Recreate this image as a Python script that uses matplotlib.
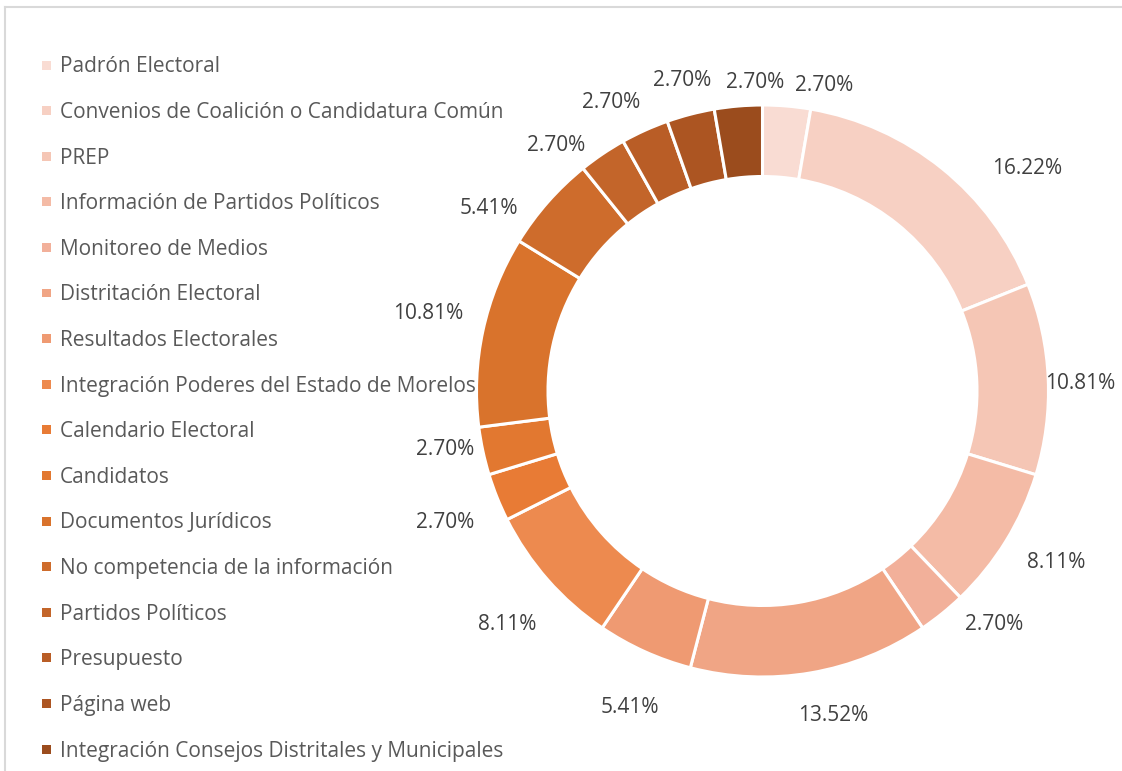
import matplotlib
matplotlib.use("Agg")
import matplotlib.pyplot as plt
from matplotlib.patches import Rectangle
from matplotlib.lines import Line2D
import numpy as np

categories = [
    "Padrón Electoral",
    "Convenios de Coalición o Candidatura Común",
    "PREP",
    "Información de Partidos Políticos",
    "Monitoreo de Medios",
    "Distritación Electoral",
    "Resultados Electorales",
    "Integración Poderes del Estado de Morelos",
    "Calendario Electoral",
    "Candidatos",
    "Documentos Jurídicos",
    "No competencia de la información",
    "Partidos Políticos",
    "Presupuesto",
    "Página web",
    "Integración Consejos Distritales y Municipales",
]
values = [2.70, 16.22, 10.81, 8.11, 2.70, 13.52, 5.41, 8.11,
          2.70, 2.70, 10.81, 5.41, 2.70, 2.70, 2.70, 2.70]
colors = ["#F9DCD3", "#F7D0C3", "#F5C6B5", "#F4BBA6", "#F2B09A", "#F0A585",
          "#EF9A72", "#ED8A4F", "#E87B35", "#E27830", "#D9732C", "#CE6C2C",
          "#C3652A", "#B95D26", "#AC5522", "#9B4C1D"]

# label layout tweaks (angle nudge in degrees, radial distance in radii), like Excel's best-fit
label_nudge = [6.6, 11, 1, -1.3, -5.8, -2.5, -1.7, -1.2, -0.6, 1.7, 0.8, -7.7, -6, -3.4, 0, 3.4]
label_dist = [1.09, 1.21, 1.11, 1.19, 1.15, 1.16, 1.20, 1.21, 1.20, 1.13, 1.20, 1.15, 1.12, 1.14, 1.12, 1.08]

plt.rcParams['font.family'] = ['Open Sans', 'DejaVu Sans']

W, H = 1122, 771
fig = plt.figure(figsize=(W / 100, H / 100), dpi=100)

# frame lines (top and left)
fig.add_artist(Line2D([5 / W, 1], [1 - 7 / H, 1 - 7 / H], color="#D9D9D9", lw=1.5))
fig.add_artist(Line2D([5 / W, 5 / W], [0, 1 - 7 / H], color="#D9D9D9", lw=1.5))

# donut axes
cx, cy, half = 762.5, 391, 300
ax = fig.add_axes([(cx - half) / W, (H - cy - half) / H, 2 * half / W, 2 * half / H])
R = 1.0

wedges, _ = ax.pie(values, colors=colors, startangle=90, counterclock=False,
                   radius=R, wedgeprops=dict(width=0.25, edgecolor="white", linewidth=2.2))
lim = half / 286
ax.set_xlim(-lim, lim)
ax.set_ylim(-lim, lim)
ax.set_aspect("equal")
ax.axis("off")

total = sum(values)
cum = 0.0
for v, nd, d in zip(values, label_nudge, label_dist):
    mid = (cum + v / 2) / total * 360 + nd
    cum += v
    ang = np.deg2rad(90 - mid)
    ax.text(d * np.cos(ang), d * np.sin(ang), f"{v:.2f}%", ha="center", va="center",
            fontsize=15, color="#404040")

# legend
y0, dy = 65, 45.6
for i, (c, col) in enumerate(zip(categories, colors)):
    y = y0 + i * dy
    fig.add_artist(Rectangle((42 / W, 1 - (y + 4.5) / H), 9 / W, 9 / H, facecolor=col,
                             edgecolor="none", transform=fig.transFigure))
    fig.text(60 / W, 1 - (y + 2) / H, c, ha="left", va="center", fontsize=15, color="#595959")

fig.savefig("out.png", dpi=100, facecolor="white")
